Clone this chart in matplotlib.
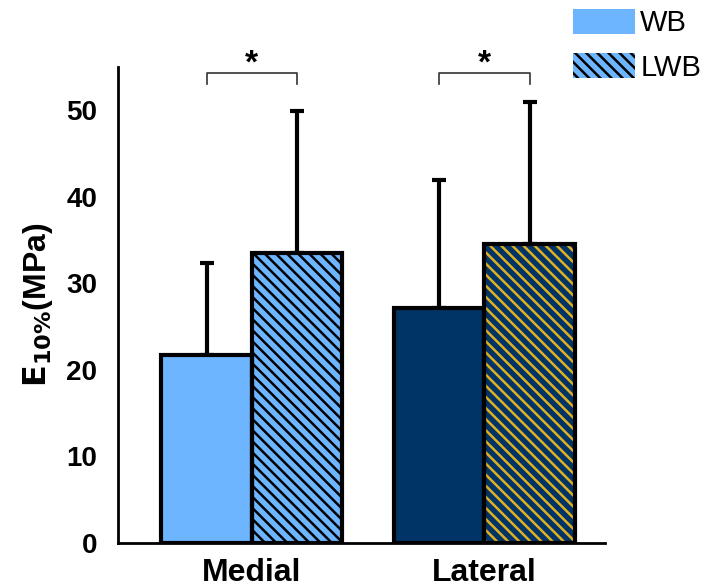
import numpy as np
import matplotlib.pyplot as plt
from matplotlib.patches import Patch

plt.rcParams['font.family'] = ['Liberation Sans', 'DejaVu Sans']
plt.rcParams['hatch.linewidth'] = 1.8

groups = ['Medial', 'Lateral']
series = ['WB', 'LWB']
means = {'WB': [21.7, 27.1], 'LWB': [33.5, 34.6]}
sds = {'WB': [10.6, 14.8], 'LWB': [16.4, 16.4]}
yticks = [0, 10, 20, 30, 40, 50]

fills = {('Medial', 'WB'): '#6db6ff', ('Medial', 'LWB'): '#6db6ff',
         ('Lateral', 'WB'): '#003366', ('Lateral', 'LWB'): '#003366'}
hatch_col = {'Medial': 'black', 'Lateral': '#e0b020'}
hatch = '\\\\\\'

fig = plt.figure(figsize=(7.18, 5.88), dpi=100)
ax = fig.add_axes([0.1643, 0.0765, 0.678, 0.8095])

centers = np.array([0.0, 2.57])
w = 1.0
for gi, g in enumerate(groups):
    for si, s in enumerate(series):
        x = centers[gi] + si * w
        m = means[s][gi]
        e = sds[s][gi]
        if s == 'LWB':
            ax.bar(x, m, w, color=fills[(g, s)], edgecolor=hatch_col[g],
                   hatch=hatch, linewidth=0, zorder=2)
        else:
            ax.bar(x, m, w, color=fills[(g, s)], linewidth=0, zorder=2)
        ax.bar(x, m, w, fill=False, edgecolor='black', linewidth=3, zorder=3)
        ax.errorbar(x, m, yerr=[[0], [e]], fmt='none', ecolor='black',
                    elinewidth=3, capsize=5, capthick=3, zorder=1)

# significance brackets
for gi in range(len(groups)):
    x0, x1 = centers[gi], centers[gi] + w
    yb, yl = 54.3, 53.0
    ax.plot([x0, x0, x1, x1], [yl, yb, yb, yl], color='#333333', lw=1.2,
            clip_on=False)
    ax.text((x0 + x1) / 2, yb - 0.7, '*', ha='center', va='bottom',
            fontsize=24, fontweight='bold', clip_on=False)

ax.set_xlim(-0.98, 4.4)
ax.set_ylim(0, 55)
ax.set_yticks(yticks)
ax.set_xticks(centers + w / 2)
ax.set_xticklabels(groups)
ax.tick_params(axis='both', length=0)
ax.tick_params(axis='y', labelsize=20, pad=15)
ax.tick_params(axis='x', labelsize=23, pad=11)
for lab in ax.get_xticklabels() + ax.get_yticklabels():
    lab.set_fontweight('bold')
ax.spines['top'].set_visible(False)
ax.spines['right'].set_visible(False)
ax.spines['left'].set_linewidth(2)
ax.spines['bottom'].set_linewidth(2)
ax.set_ylabel(r'$\mathbf{E}_{\mathbf{10\%}}$(MPa)', fontsize=23,
              fontweight='bold', labelpad=8)

handles = [Patch(facecolor='#6db6ff', edgecolor='none', label='WB'),
           Patch(facecolor='#6db6ff', edgecolor='black', hatch=hatch,
                 linewidth=0, label='LWB')]
fig.legend(handles=handles, loc='upper left', bbox_to_anchor=(0.770, 1.02),
           frameon=False, fontsize=21, handlelength=2.1, handleheight=0.95,
           handletextpad=0.2, labelspacing=0.55, borderaxespad=0.3)

fig.savefig('out.png', dpi=100)
